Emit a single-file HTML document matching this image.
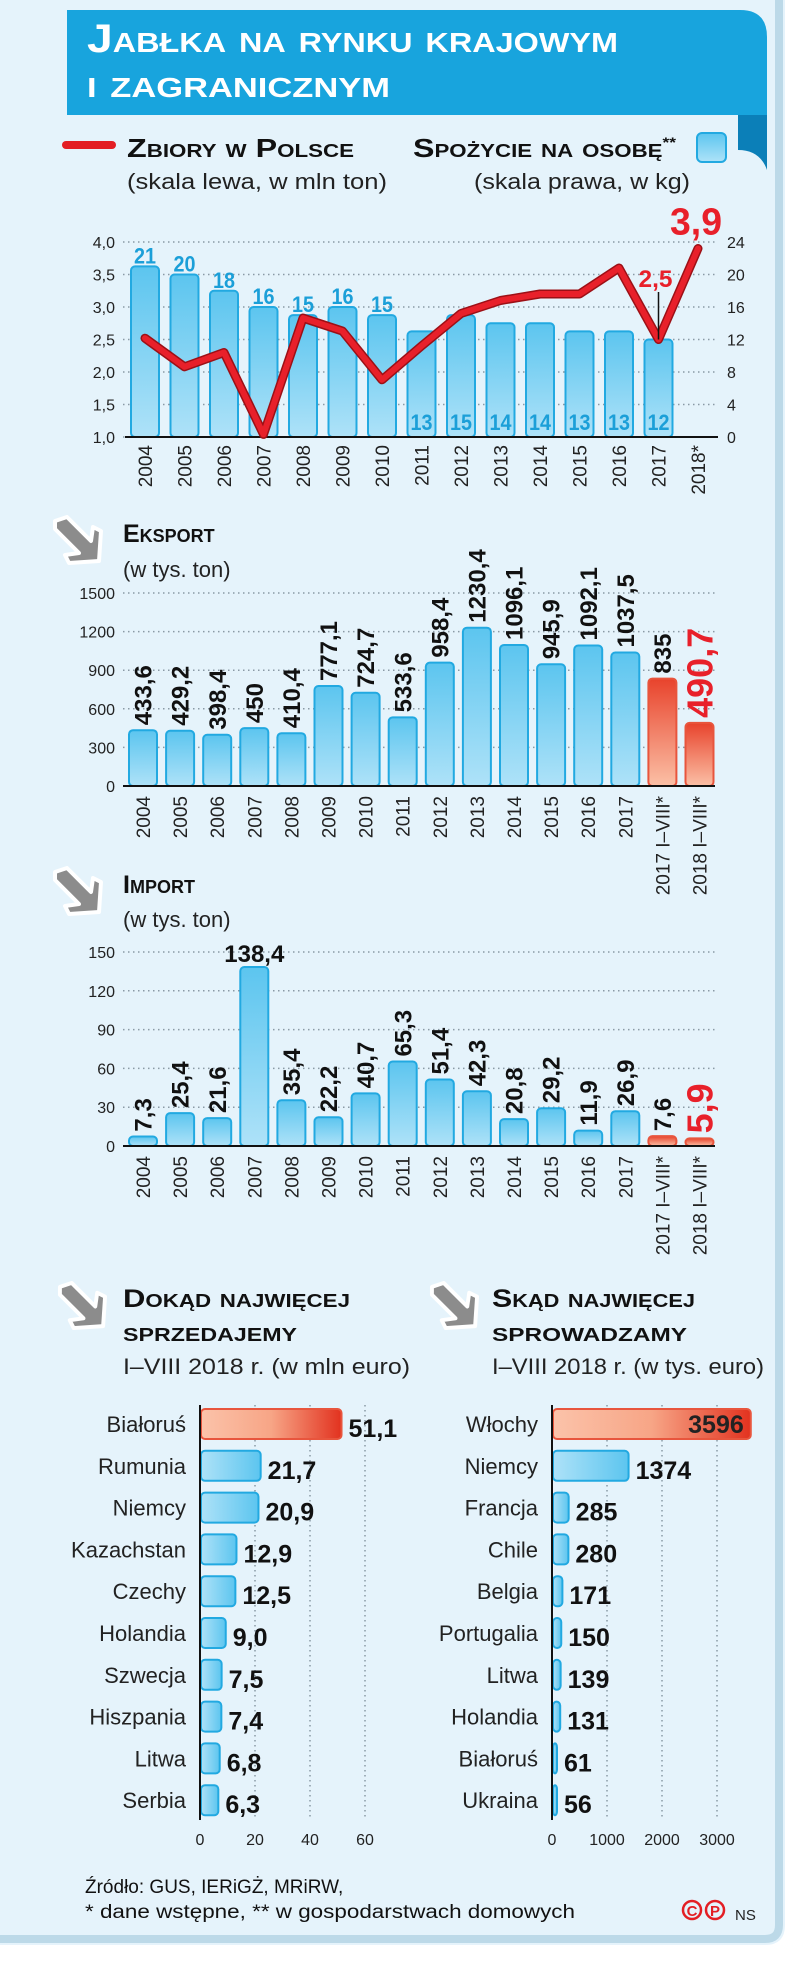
<!DOCTYPE html>
<html><head><meta charset="utf-8">
<style>
html,body{margin:0;padding:0;background:#fff;}
svg{display:block;}
text{font-family:"Liberation Sans",sans-serif;}
.sc{font-variant:small-caps;font-weight:bold;}
</style></head>
<body>
<svg id="chart" xmlns="http://www.w3.org/2000/svg" width="805" height="1964" viewBox="0 0 805 1964">
<defs>
  <linearGradient id="gBlueV" x1="0" y1="0" x2="0" y2="1"><stop offset="0" stop-color="#5cc5ef"/><stop offset="1" stop-color="#aee2f8"/></linearGradient>
  <linearGradient id="gRedV" x1="0" y1="0" x2="0" y2="1"><stop offset="0" stop-color="#e8432c"/><stop offset="1" stop-color="#fbc0a6"/></linearGradient>
  <linearGradient id="gBlueH" x1="0" y1="0" x2="1" y2="0"><stop offset="0" stop-color="#aee2f8"/><stop offset="1" stop-color="#5cc5ef"/></linearGradient>
  <linearGradient id="gRedH" x1="0" y1="0" x2="1" y2="0"><stop offset="0" stop-color="#fbc3aa"/><stop offset="0.5" stop-color="#f7a586"/><stop offset="1" stop-color="#e2321f"/></linearGradient>
  <symbol id="arrowIcon" viewBox="0 0 54 54">
    <path d="M4 8 L16 4 L40 28 L42 14 L50 18 L48 48 L18 50 L14 42 L28 40 L4 16 Z" fill="#8c8c8c" stroke="#fff" stroke-width="4" stroke-linejoin="round"/>
  </symbol>
</defs>
<rect x="0" y="0" width="805" height="1964" fill="#fff"/>
<path d="M0 0 H785 V1925 Q785 1945 765 1945 H0 Z" fill="#e5f3fb"/>
<path d="M779 0 V1925 Q779 1939 765 1939 H0" fill="none" stroke="#bcd9e8" stroke-width="8"/>

<!-- title banner -->
<g>
  <path d="M738 115 H767 V170 Q760 150 738 150 Z" fill="#0b7fb8"/>
  <path d="M67 10 H740 Q767 10 767 37 V115 H67 Z" fill="#18a4dd"/>
  <text x="87" y="52" class="sc" fill="#fff" font-size="40" textLength="531" lengthAdjust="spacingAndGlyphs">Jabłka na rynku krajowym</text>
  <text x="87" y="97" class="sc" fill="#fff" font-size="40" textLength="303" lengthAdjust="spacingAndGlyphs">i zagranicznym</text>
</g>

<!-- legend -->
<g>
  <line x1="66" y1="145" x2="112" y2="145" stroke="#e31e24" stroke-width="8" stroke-linecap="round"/>
  <text x="127" y="157" class="sc" font-size="26" fill="#111" textLength="227" lengthAdjust="spacingAndGlyphs">Zbiory w Polsce</text>
  <text x="127" y="189" font-size="22" fill="#222" textLength="260" lengthAdjust="spacingAndGlyphs">(skala lewa, w mln ton)</text>
  <text x="413" y="157" class="sc" font-size="26" fill="#111" textLength="263" lengthAdjust="spacingAndGlyphs">Spożycie na osobę<tspan font-size="14" dy="-10">**</tspan></text>
  <rect x="697" y="133" width="29" height="29" rx="5" fill="url(#gBlueV)" stroke="#22a9e1" stroke-width="2"/>
  <text x="474" y="189" font-size="22" fill="#222" textLength="216" lengthAdjust="spacingAndGlyphs">(skala prawa, w kg)</text>
</g>

<g id="c1"></g>

<!-- Export header -->
<use href="#arrowIcon" x="51" y="513" width="54" height="54"/>
<text x="123" y="542" class="sc" font-size="25" fill="#111">Eksport</text>
<text x="123" y="577" font-size="22" fill="#222">(w tys. ton)</text>
<g id="c2"></g>

<!-- Import header -->
<use href="#arrowIcon" x="51" y="864" width="54" height="54"/>
<text x="123" y="893" class="sc" font-size="25" fill="#111">Import</text>
<text x="123" y="927" font-size="22" fill="#222">(w tys. ton)</text>
<g id="c3"></g>

<!-- destinations headers -->
<use href="#arrowIcon" x="56" y="1279" width="53" height="53"/>
<text x="123" y="1307" class="sc" font-size="25" fill="#111" textLength="227" lengthAdjust="spacingAndGlyphs">Dokąd najwięcej</text>
<text x="123" y="1341" class="sc" font-size="25" fill="#111" textLength="174" lengthAdjust="spacingAndGlyphs">sprzedajemy</text>
<text x="123" y="1374" font-size="22" fill="#222" textLength="287" lengthAdjust="spacingAndGlyphs">I–VIII 2018 r. (w mln euro)</text>
<use href="#arrowIcon" x="428" y="1279" width="53" height="53"/>
<text x="492" y="1307" class="sc" font-size="25" fill="#111" textLength="203" lengthAdjust="spacingAndGlyphs">Skąd najwięcej</text>
<text x="492" y="1341" class="sc" font-size="25" fill="#111" textLength="195" lengthAdjust="spacingAndGlyphs">sprowadzamy</text>
<text x="492" y="1374" font-size="22" fill="#222" textLength="272" lengthAdjust="spacingAndGlyphs">I–VIII 2018 r. (w tys. euro)</text>
<g id="c4"></g>
<g id="c5"></g>

<!-- footer -->
<text x="85" y="1893" font-size="19" fill="#111">Źródło: GUS, IERiGŻ, MRiRW,</text>
<text x="85" y="1918" font-size="19" fill="#111" textLength="490" lengthAdjust="spacingAndGlyphs">* dane wstępne, ** w gospodarstwach domowych</text>
<g>
  <circle cx="692" cy="1910" r="9" fill="none" stroke="#e31e24" stroke-width="2.5"/>
  <text x="692" y="1916" font-size="15" font-weight="bold" fill="#e31e24" text-anchor="middle">C</text>
  <circle cx="715" cy="1910" r="9" fill="none" stroke="#e31e24" stroke-width="2.5"/>
  <text x="715" y="1916" font-size="15" font-weight="bold" fill="#e31e24" text-anchor="middle">P</text>
  <text x="735" y="1920" font-size="15" fill="#222">NS</text>
</g>
</svg>

<script>
// ---- Chart 1 data ----
const years1 = ["2004","2005","2006","2007","2008","2009","2010","2011","2012","2013","2014","2015","2016","2017","2018*"];
const consumption = [21,20,18,16,15,16,15,13,15,14,14,13,13,12];
const harvest = [2.52,2.08,2.3,1.04,2.83,2.63,1.88,2.4,2.9,3.1,3.2,3.2,3.6,2.5,3.9];
const leftTicks = [1.0,1.5,2.0,2.5,3.0,3.5,4.0];
const rightTicks = [0,4,8,12,16,20,24];
// ---- Export / Import ----
const tradeCats = ["2004","2005","2006","2007","2008","2009","2010","2011","2012","2013","2014","2015","2016","2017","2017 I–VIII*","2018 I–VIII*"];
const exportVals = [433.6,429.2,398.4,450,410.4,777.1,724.7,533.6,958.4,1230.4,1096.1,945.9,1092.1,1037.5,835,490.7];
const exportTicks = [0,300,600,900,1200,1500];
const importVals = [7.3,25.4,21.6,138.4,35.4,22.2,40.7,65.3,51.4,42.3,20.8,29.2,11.9,26.9,7.6,5.9];
const importTicks = [0,30,60,90,120,150];
// ---- Destinations / Sources ----
const destCats = ["Białoruś","Rumunia","Niemcy","Kazachstan","Czechy","Holandia","Szwecja","Hiszpania","Litwa","Serbia"];
const destVals = [51.1,21.7,20.9,12.9,12.5,9.0,7.5,7.4,6.8,6.3];
const destTicks = [0,20,40,60];
const srcCats = ["Włochy","Niemcy","Francja","Chile","Belgia","Portugalia","Litwa","Holandia","Białoruś","Ukraina"];
const srcVals = [3596,1374,285,280,171,150,139,131,61,56];
const srcTicks = [0,1000,2000,3000];

const NS = "http://www.w3.org/2000/svg";
function mk(parent, tag, attrs, txt){
  const e = document.createElementNS(NS, tag);
  for (const k in attrs) e.setAttribute(k, attrs[k]);
  if (txt !== undefined) e.textContent = txt;
  parent.appendChild(e);
  return e;
}
const fmt = v => String(v).replace('.', ',');
const fmt1 = v => v.toFixed(1).replace('.', ',');

// ===== Chart 1 =====
(function(){
  const g = document.getElementById('c1');
  const xAt = i => 145 + i*39.5;
  const yL = v => 437 - (v-1)*65;
  const yR = v => 437 - v*195/24;
  leftTicks.forEach(t => {
    const gl = mk(g,'line',{x1:123,x2:718,y1:yL(t),y2:yL(t),stroke:'#8a9aa5','stroke-width':1.5,'stroke-dasharray':'1.5 3.5'});
    
    
    const tl = mk(g,'text',{x:115,y:yL(t)+6,'font-size':16,'text-anchor':'end',fill:'#222'}, fmt1(t));
    
    
  });
  rightTicks.forEach(t => {
    const tl = mk(g,'text',{x:727,y:yR(t)+6,'font-size':16,fill:'#222'}, String(t));
    
    
  });
  consumption.forEach((v,i) => {
    const b = mk(g,'rect',{x:xAt(i)-14,y:yR(v),width:28,height:437-yR(v),rx:4,fill:'url(#gBlueV)',stroke:'#22a9e1','stroke-width':2});
    
    
    const above = i < 7;
    const lb = mk(g,'text',{x:xAt(i),y: above ? yR(v)-3 : 430,'font-size':22,'font-weight':'bold','text-anchor':'middle',fill:'#1b9fd8',textLength:22,lengthAdjust:'spacingAndGlyphs'}, String(v));
    
    
  });
  const ax = mk(g,'line',{x1:125,x2:718,y1:437,y2:437,stroke:'#111','stroke-width':2});
  
  
  years1.forEach((y,i) => {
    const t = mk(g,'text',{x:xAt(i)+7,y:445,'font-size':19,'text-anchor':'end',fill:'#222',transform:`rotate(-90 ${xAt(i)+7} 445)`}, y);
    
    
  });
  const pts = harvest.map((v,i)=>xAt(i)+','+yL(v)).join(' ');
  const sh = mk(g,'polyline',{points:pts,fill:'none',stroke:'#9c1016','stroke-width':9,'stroke-linejoin':'round','stroke-linecap':'round'});
  
  
  const ln = mk(g,'polyline',{points:pts,fill:'none',stroke:'#e8202a','stroke-width':6,'stroke-linejoin':'round','stroke-linecap':'round'});
  
  
  const i17 = 13, i18 = 14;
  const pin = mk(g,'line',{x1:xAt(i17),x2:xAt(i17),y1:292,y2:yL(harvest[i17]),stroke:'#111','stroke-width':1.5});
  
  
  const l17 = mk(g,'text',{x:xAt(i17)-3,y:287,'font-size':24,'font-weight':'bold','text-anchor':'middle',fill:'#e8202a',textLength:34,lengthAdjust:'spacingAndGlyphs'}, fmt1(harvest[i17]));
  
  
  const l18 = mk(g,'text',{x:xAt(i18)-2,y:yL(harvest[i18])-14,'font-size':38,'font-weight':'bold','text-anchor':'middle',fill:'#e8202a',textLength:52,lengthAdjust:'spacingAndGlyphs'}, fmt1(harvest[i18]));
  
  
})();

// ===== vertical trade charts =====
function tradeChart(id, vals, ticks, y0, pxFull, maxV, bigFont, isImport){
  const g = document.getElementById(id);
  const xAt = i => 143 + i*37.1;
  const yv = v => y0 - v*pxFull/maxV;
  ticks.forEach(t => {
    if (t>0){
      const gl = mk(g,'line',{x1:123,x2:715,y1:yv(t),y2:yv(t),stroke:'#8a9aa5','stroke-width':1.5,'stroke-dasharray':'1.5 3.5'});
      
      
    }
    const tl = mk(g,'text',{x:115,y:yv(t)+6,'font-size':16,'text-anchor':'end',fill:'#222'}, String(t));
    
    
  });
  vals.forEach((v,i) => {
    const red = i >= 14;
    const top = yv(v);
    const b = mk(g,'rect',{x:xAt(i)-14,y:top,width:28,height:Math.max(y0-top,3),rx:4,fill:red?'url(#gRedV)':'url(#gBlueV)',stroke:red?'#e8553d':'#22a9e1','stroke-width':2});
    
    
    let lb;
    if (isImport && i === 3){
      lb = mk(g,'text',{x:xAt(i),y:top-5,'font-size':24,'font-weight':'bold','text-anchor':'middle',fill:'#111',letterSpacing:'-1'}, fmt(v));
    } else {
      const big = i === 15;
      const fs = big ? bigFont : 24;
      const lx = xAt(i) + fs*0.36, ly = top - 5;
      lb = mk(g,'text',{x:lx,y:ly,'font-size':fs,'font-weight':'bold',fill:big?'#e8202a':'#111',transform:`rotate(-90 ${lx} ${ly})`}, fmt(v));
    }
    
    
  });
  const ax = mk(g,'line',{x1:123,x2:715,y1:y0,y2:y0,stroke:'#111','stroke-width':2});
  
  
  tradeCats.forEach((c,i) => {
    const tx = xAt(i)+7, ty = y0+10;
    const t = mk(g,'text',{x:tx,y:ty,'font-size':19,'text-anchor':'end',fill:'#222',transform:`rotate(-90 ${tx} ${ty})`}, c);
    
    
  });
}
tradeChart('c2', exportVals, exportTicks, 786, 193, 1500, 36, false);
tradeChart('c3', importVals, importTicks, 1146, 194, 150, 36, true);

// ===== horizontal bar charts =====
function hChart(id, cats, vals, ticks, x0, pxPerUnit, fmtFn, insideFirst){
  const g = document.getElementById(id);
  const rowY = i => 1424 + i*41.8;
  const xv = v => x0 + v*pxPerUnit;
  ticks.forEach(t => {
    if (t>0){
      const gl = mk(g,'line',{x1:xv(t),x2:xv(t),y1:1405,y2:1820,stroke:'#8a9aa5','stroke-width':1.5,'stroke-dasharray':'1.5 3.5'});
      
      
    }
    const tl = mk(g,'text',{x:xv(t),y:1845,'font-size':16,'text-anchor':'middle',fill:'#222'}, String(t));
    
    
  });
  cats.forEach((c,i) => {
    const red = i === 0;
    const w = Math.max(xv(vals[i]) - x0, 4);
    const b = mk(g,'rect',{x:x0+1,y:rowY(i)-15,width:w,height:30,rx:4,fill:red?'url(#gRedH)':'url(#gBlueH)',stroke:red?'#e8553d':'#22a9e1','stroke-width':2});
    
    
    const cl = mk(g,'text',{x:x0-14,y:rowY(i)+8,'font-size':22,'text-anchor':'end',fill:'#222'}, c);
    
    
    let vl;
    if (red && insideFirst){
      vl = mk(g,'text',{x:x0+w-6,y:rowY(i)+9,'font-size':25,'font-weight':'bold','text-anchor':'end',fill:'#222'}, fmtFn(vals[i]));
    } else {
      vl = mk(g,'text',{x:x0+w+8,y:rowY(i)+13,'font-size':25,'font-weight':'bold',fill:'#111'}, fmtFn(vals[i]));
    }
    
    
  });
  const ax = mk(g,'line',{x1:x0,x2:x0,y1:1405,y2:1820,stroke:'#111','stroke-width':2});
  
  
}
hChart('c4', destCats, destVals, destTicks, 200, 55/20, v => v.toFixed(1).replace('.', ','), false);
hChart('c5', srcCats, srcVals, srcTicks, 552, 0.055, v => String(v), true);
</script>
</body></html>
